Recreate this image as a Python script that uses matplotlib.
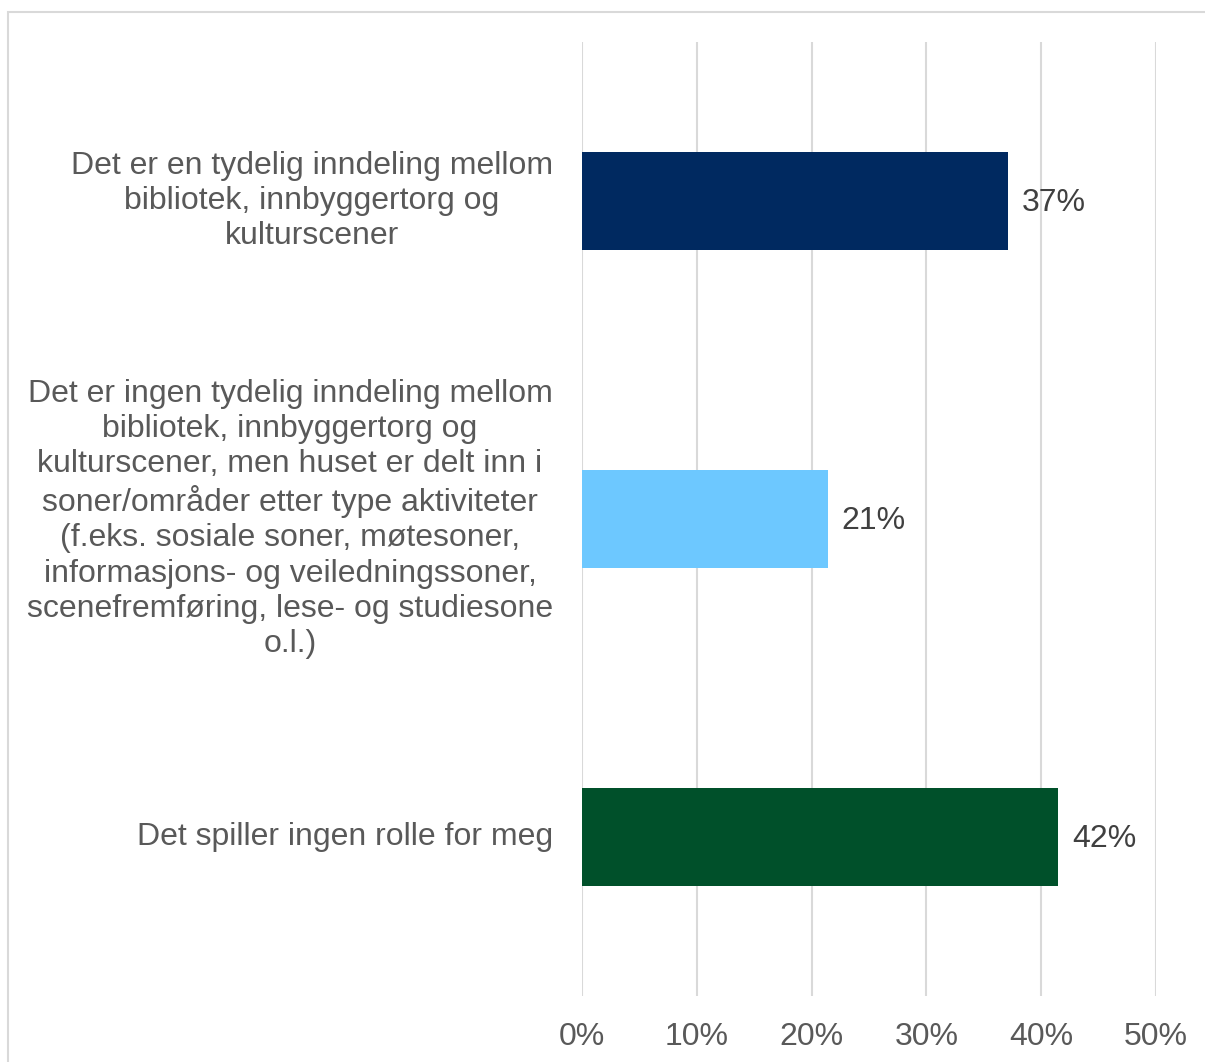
import matplotlib.pyplot as plt
from matplotlib.patches import Rectangle
from matplotlib.ticker import PercentFormatter
from matplotlib.transforms import blended_transform_factory

plt.rcParams['font.family'] = ['Liberation Sans', 'DejaVu Sans']

categories = [
    "Det er en tydelig inndeling mellom\nbibliotek, innbyggertorg og\nkulturscener",
    "Det er ingen tydelig inndeling mellom\nbibliotek, innbyggertorg og\nkulturscener, men huset er delt inn i\n"
    "soner/områder etter type aktiviteter\n(f.eks. sosiale soner, møtesoner,\n"
    "informasjons- og veiledningssoner,\nscenefremføring, lese- og studiesone\no.l.)",
    "Det spiller ingen rolle for meg",
]
values = [0.371, 0.214, 0.415]
colors = ["#002960", "#6DC8FF", "#00502A"]
xticks = [0.0, 0.1, 0.2, 0.3, 0.4, 0.5]

W, H = 1205, 1062
fig = plt.figure(figsize=(W / 100, H / 100), dpi=100)
ax = fig.add_axes([582 / W, 1 - 996 / H, (1156 - 582) / W, (996 - 42) / H])

# outer frame, runs off the right and bottom edges
fig.patches.append(Rectangle((8 / W, -0.1), 1.2, 1 - 12 / H + 0.1,
                             transform=fig.transFigure, fill=False,
                             edgecolor="#D9D9D9", linewidth=1.5, zorder=0))

ypos = list(range(len(categories)))
ax.barh(ypos, values, height=0.31, color=colors, zorder=3)
for y, v in zip(ypos, values):
    ax.text(v + 0.012, y + 0.006, f"{round(v * 100):.0f}%", va="center", ha="left",
            fontsize=23, color="#404040")

ax.set_xlim(0, 0.5)
ax.set_ylim(2.5, -0.5)
ax.set_xticks(xticks)
ax.xaxis.set_major_formatter(PercentFormatter(1.0, decimals=0))
ax.grid(axis="x", color="#D9D9D9", linewidth=1.5, zorder=0)
ax.tick_params(axis="x", length=0, pad=19, labelsize=23, labelcolor="#595959")
ax.set_yticks([])
for s in ax.spines.values():
    s.set_visible(False)

label_tr = blended_transform_factory(fig.transFigure, ax.transData)
for y, label in zip(ypos, categories):
    ax.text(553 / W, y, label, transform=label_tr,
            ha="right", va="center", multialignment="center",
            fontsize=23, color="#595959", linespacing=1.23)

fig.savefig("out.png", dpi=100)
